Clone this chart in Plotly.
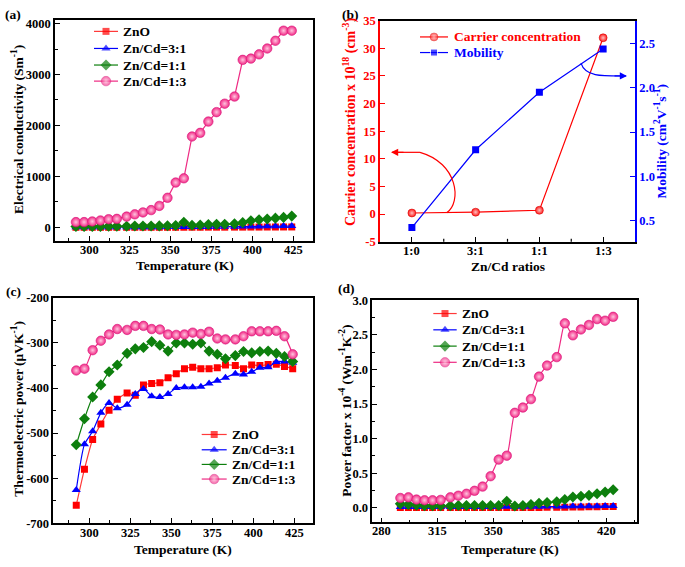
import plotly.graph_objects as go

# ---------------- data ----------------
temps = [292, 297, 302, 307, 312, 317, 323, 328, 333, 338, 343, 348, 353, 358,
         363, 368, 373, 378, 383, 389, 394, 399, 404, 409, 414, 419, 424]

series_names = ["ZnO", "Zn/Cd=3:1", "Zn/Cd=1:1", "Zn/Cd=1:3"]

# (a) electrical conductivity (S/m)
sigma_zno = [1, 1, 1, 1, 1, 1, 1, 1, 1, 1, 1, 1, 1, 2, 2, 2, 3, 3, 3, 4, 4, 5, 5, 6, 6, 7, 7]
sigma_31 = [2, 2, 2, 2, 2, 2, 3, 3, 3, 3, 3, 4, 4, 5, 6, 7, 8, 9, 10, 12, 14, 16, 18, 20, 22, 24, 26]
sigma_11 = [15, 15, 15, 18, 20, 20, 22, 25, 25, 25, 28, 30, 35, 100, 40, 45, 55, 58, 62, 68,
            95, 130, 150, 165, 180, 195, 220]
sigma_13 = [102, 102, 115, 134, 159, 166, 210, 255, 293, 338, 420, 580, 879, 962, 1783, 1854,
            2076, 2261, 2427, 2567, 3287, 3312, 3395, 3510, 3662, 3860, 3860]

# (b) carrier concentration & mobility
ratios = ["1:0", "3:1", "1:1", "1:3"]
carrier = [0.2, 0.35, 0.7, 31.9]
mobility = [0.42, 1.30, 1.95, 2.44]
b_names = ["Carrier concentration", "Mobility"]

# (c) thermoelectric power (uV/K)
seeb_zno = [-660, -580, -514, -480, -449, -425, -411, -416, -393, -390, -388, -377, -368, -357,
            -354, -357, -357, -355, -349, -350, -357, -349, -350, -348, -347, -352, -357]
seeb_31 = [-626, -525, -496, -455, -433, -445, -437, -413, -402, -418, -420, -413, -400, -398,
           -398, -397, -390, -384, -377, -368, -370, -364, -355, -354, -342, -341, -344]
seeb_11 = [-526, -468, -420, -393, -364, -349, -323, -313, -310, -297, -305, -318, -300, -300,
           -303, -300, -318, -325, -335, -328, -319, -322, -319, -318, -323, -330, -341]
seeb_13 = [-361, -357, -316, -295, -281, -269, -271, -262, -262, -269, -270, -281, -282, -281,
           -277, -280, -275, -290, -292, -292, -285, -274, -274, -274, -273, -285, -325]

# (d) power factor (x1e-4 W m^-1 K^-2)
pf_zno = [0.002, 0.002, 0.002, 0.002, 0.002, 0.002, 0.002, 0.002, 0.002, 0.002, 0.002, 0.002,
          0.003, 0.004, 0.004, 0.004, 0.005, 0.005, 0.006, 0.007, 0.008, 0.010, 0.011, 0.013,
          0.015, 0.017, 0.019]
pf_31 = [0.012, 0.012, 0.012, 0.012, 0.012, 0.012, 0.012, 0.012, 0.012, 0.012, 0.012, 0.012,
         0.013, 0.014, 0.014, 0.015, 0.015, 0.016, 0.017, 0.018, 0.019, 0.020, 0.021, 0.022,
         0.023, 0.024, 0.025]
pf_11 = [0.056, 0.047, 0.038, 0.028, 0.028, 0.028, 0.028, 0.033, 0.033, 0.033, 0.033, 0.033,
         0.033, 0.094, 0.024, 0.033, 0.047, 0.066, 0.075, 0.085, 0.118, 0.155, 0.165, 0.179,
         0.202, 0.226, 0.259]
pf_13 = [0.141, 0.150, 0.118, 0.108, 0.108, 0.113, 0.150, 0.174, 0.202, 0.245, 0.306, 0.456,
         0.696, 0.753, 1.373, 1.449, 1.571, 1.896, 2.056, 2.178, 2.667, 2.493, 2.578, 2.643,
         2.728, 2.705, 2.761]

# tick labels
a_xticks = [300, 325, 350, 375, 400, 425]
a_yticks = [0, 1000, 2000, 3000, 4000]
b_left_ticks = [-5, 0, 5, 10, 15, 20, 25, 30, 35]
b_right_ticks = [0.5, 1.0, 1.5, 2.0, 2.5]
c_yticks = [-700, -600, -500, -400, -300, -200]
d_xticks = [280, 315, 350, 385, 420]
d_yticks = [0.0, 0.5, 1.0, 1.5, 2.0, 2.5, 3.0]

# ---------------- styling ----------------
FONT = "Liberation Serif"
RED = "#ff0000"
RED_LINE = "#ff3a3a"
BLUE = "#0000ff"
GREEN = "#0d7f0d"
PINK = "#f22885"
PINK_LINE = "#ee2a83"

W, H = 685, 567


def px(x):
    return x / W


def py(y):
    return 1 - y / H


fig = go.Figure()


def pink_marker(size):
    return dict(color=PINK, symbol="circle", size=size,
                gradient=dict(type="radial", color="#ffc4de"),
                line=dict(width=0.6, color="#d6157a"))


styles = [
    dict(color=RED, line=RED_LINE, symbol="square", size=7),
    dict(color=BLUE, line=BLUE, symbol="triangle-up", size=8),
    dict(color=GREEN, line=GREEN, symbol="diamond", size=8.5),
    dict(color=PINK, line=PINK_LINE, symbol="circle", size=9.5),
]


def marker_for(st, size=None):
    s = st["size"] if size is None else size
    if st["symbol"] == "circle":
        return pink_marker(s)
    return dict(color=st["color"], symbol=st["symbol"], size=s, line=dict(width=0))


def add_set(ys_list, xa, ya, shape):
    for name, ys, st in zip(series_names, ys_list, styles):
        fig.add_trace(go.Scatter(
            x=temps, y=ys, name=name, mode="lines+markers",
            line=dict(color=st["line"], width=1.2, shape=shape,
                      smoothing=0.6 if shape == "spline" else None),
            marker=marker_for(st), xaxis=xa, yaxis=ya, showlegend=False))


add_set([sigma_zno, sigma_31, sigma_11, sigma_13], "x", "y", "linear")
add_set([seeb_zno, seeb_31, seeb_11, seeb_13], "x3", "y4", "spline")
add_set([pf_zno, pf_31, pf_11, pf_13], "x4", "y5", "spline")

# (b)
carrier_marker = dict(color="#ff1a1a", symbol="circle", size=8,
                      gradient=dict(type="radial", color="#ffc0c0"),
                      line=dict(width=0.5, color="#d00000"))
mob_marker = dict(color=BLUE, size=7, symbol="square")
fig.add_trace(go.Scatter(
    x=ratios, y=carrier, name=b_names[0], mode="lines+markers",
    line=dict(color=RED, width=1.2), marker=carrier_marker,
    xaxis="x2", yaxis="y2", showlegend=False))
fig.add_trace(go.Scatter(
    x=ratios, y=mobility, name=b_names[1], mode="lines+markers",
    line=dict(color=BLUE, width=1.2), marker=mob_marker,
    xaxis="x2", yaxis="y3", showlegend=False))

tickfont = dict(family=FONT, size=12.5, color="black", weight="bold")


def axis(domain, rng, anchor, **kw):
    d = dict(domain=domain, range=rng, anchor=anchor, showgrid=False, zeroline=False,
             showline=True, linecolor="black", linewidth=1.5, mirror=True,
             ticks="inside", ticklen=5, tickwidth=1.2, tickcolor="black",
             tickfont=tickfont, fixedrange=True)
    d.update(kw)
    return d


a_dom_x = [px(55), px(313)]
a_dom_y = [py(240), py(13.3)]
b_dom_x = [px(380), px(635)]
b_dom_y = [py(240.7), py(14)]
c_dom_x = [px(53.3), px(312.7)]
c_dom_y = [py(529.3), py(298.3)]
d_dom_x = [px(372.3), px(636.7)]
d_dom_y = [py(528.3), py(300.7)]

fig.update_layout(
    width=W, height=H, margin=dict(l=0, r=0, t=0, b=0),
    paper_bgcolor="white", plot_bgcolor="rgba(0,0,0,0)", showlegend=False,
    font=dict(family=FONT, size=12, color="black", weight="bold"),
    xaxis=axis(a_dom_x, [279.2, 437], "y", tickvals=a_xticks, showticklabels=False,
               minor=dict(dtick=12.5, tick0=287.5, ticks="inside", ticklen=3, tickcolor="black")),
    yaxis=axis(a_dom_y, [-270, 4070], "x", tickvals=a_yticks, tickformat="d",
               minor=dict(dtick=500, tick0=0, ticks="inside", ticklen=3, tickcolor="black")),
    xaxis2=axis(b_dom_x, [-0.5, 3.5], "y2", type="category", showticklabels=False),
    yaxis2=axis(b_dom_y, [-5, 35], "x2", tickvals=b_left_ticks,
                ticktext=[str(v) if v >= 0 else "-" + str(-v) for v in b_left_ticks],
                linecolor=RED, tickcolor=RED, mirror=False,
                tickfont=dict(family=FONT, size=12.5, color=RED, weight="bold")),
    yaxis3=axis(b_dom_y, [0.26, 2.76], "x2", overlaying="y2", side="right",
                tickvals=b_right_ticks, tickformat=".1f", linecolor=BLUE, tickcolor=BLUE,
                mirror=False,
                tickfont=dict(family=FONT, size=12.5, color=BLUE, weight="bold")),
    xaxis3=axis(c_dom_x, [278, 436.2], "y4", tickvals=a_xticks, showticklabels=False,
                minor=dict(dtick=12.5, tick0=287.5, ticks="inside", ticklen=3, tickcolor="black")),
    yaxis4=axis(c_dom_y, [-700, -200], "x3", tickvals=c_yticks,
                ticktext=["-" + str(-v) for v in c_yticks],
                minor=dict(dtick=50, tick0=-700, ticks="inside", ticklen=3, tickcolor="black")),
    xaxis4=axis(d_dom_x, [274.6, 438.6], "y5", tickvals=d_xticks, showticklabels=False,
                minor=dict(dtick=17.5, tick0=262.5, ticks="inside", ticklen=3, tickcolor="black")),
    yaxis5=axis(d_dom_y, [-0.21, 3.0], "x4", tickvals=d_yticks, tickformat=".1f",
                minor=dict(dtick=0.25, tick0=0, ticks="inside", ticklen=3, tickcolor="black")),
    # full-figure overlay axes in pixel units, used only for legend samples
    xaxis5=dict(domain=[0, 1], range=[0, W], anchor="y6", visible=False, fixedrange=True),
    yaxis6=dict(domain=[0, 1], range=[H, 0], anchor="x5", visible=False, fixedrange=True),
)

ann = []


def text(x, y, t, size=13.5, angle=0, color="black", xanchor="center"):
    ann.append(dict(x=px(x), y=py(y), xref="paper", yref="paper", text=t, showarrow=False,
                    textangle=angle, font=dict(family=FONT, size=size, color=color, weight="bold"),
                    xanchor=xanchor, yanchor="middle"))


# ---------------- hand-drawn legends ----------------
def legend_item(x0, x1, xt, y, name, line_color, marker, color="black", size=13.5):
    m = dict(marker)
    m["size"] = [0, marker["size"], 0]
    fig.add_trace(go.Scatter(x=[x0, (x0 + x1) / 2, x1], y=[y, y, y], mode="lines+markers",
                             line=dict(color=line_color, width=1.2), marker=m,
                             xaxis="x5", yaxis="y6", showlegend=False, hoverinfo="skip"))
    text(xt, y, name, size, color=color, xanchor="left")


def legend_block(x0, x1, xt, rows):
    for y, name, st in zip(rows, series_names, styles):
        legend_item(x0, x1, xt, y, name, st["line"], marker_for(st))


legend_block(94, 118, 121, [25, 42.5, 59.5, 76])
legend_block(201.7, 226.7, 229.5, [438.3, 454, 469, 484])
legend_block(433.3, 456.7, 459.5, [314.3, 331, 347.7, 364.3])
legend_item(420, 448, 452, 30.7, b_names[0], RED, carrier_marker, RED, 13.5)
legend_item(420, 448, 452, 46.7, b_names[1], BLUE, mob_marker, BLUE, 13.5)

# ---------------- x tick labels ----------------
for v in a_xticks:
    ann.append(dict(x=v, xref="x", y=py(249), yref="paper", text=str(v), showarrow=False,
                    font=tickfont, xanchor="center", yanchor="middle"))
    ann.append(dict(x=v, xref="x3", y=py(539), yref="paper", text=str(v), showarrow=False,
                    font=tickfont, xanchor="center", yanchor="middle"))
for k, r in enumerate(ratios):
    ann.append(dict(x=k, xref="x2", y=py(250), yref="paper", text=r, showarrow=False,
                    font=tickfont, xanchor="center", yanchor="middle"))
for v in d_xticks:
    ann.append(dict(x=v, xref="x4", y=py(537), yref="paper", text=str(v), showarrow=False,
                    font=tickfont, xanchor="center", yanchor="middle"))

text(13, 8, "(a)", 13.5)
text(350, 8, "(b)", 13.5)
text(13, 292, "(c)", 13.5)
text(346, 289, "(d)", 13.5)

text(185, 265.5, "Temperature (K)", 13.5)
text(18, 126, "Electrical conductivity (Sm<sup>-1</sup>)", 13.5, -90)
text(508, 266.5, "Zn/Cd ratios", 13.5)
text(349, 118, "Carrier concentration x 10<sup>18</sup> (cm<sup>-3</sup>)", 14, -90, RED)
text(661, 138, "Mobility (cm<sup>2</sup>V<sup>-1</sup>s<sup>-1</sup>)", 13.5, -90, BLUE)
text(183, 556.5, "Temperature (K)", 13.5)
text(18, 412, "Thermoelectric power (\u03bcVK<sup>-1</sup>)", 13.5, -90)
text(510, 556.5, "Temperature (K)", 13.5)
text(346, 414, "Power factor x 10<sup>-4</sup> (Wm<sup>-1</sup>K<sup>-2</sup>)", 13.5, -90)

# arrow heads
ann.append(dict(x=px(391), y=py(149), xref="paper", yref="paper", ax=14, ay=0, text="",
                showarrow=True, arrowhead=2, arrowsize=1.2, arrowwidth=1.2, arrowcolor=RED))
ann.append(dict(x=px(627), y=py(70.7), xref="paper", yref="paper", ax=-14, ay=0, text="",
                showarrow=True, arrowhead=2, arrowsize=1.2, arrowwidth=1.2, arrowcolor=BLUE))
fig.update_layout(annotations=ann)

shapes = []


def path_px(pts):
    s = "M {:.5f} {:.5f}".format(px(pts[0][0]), py(pts[0][1]))
    rest = pts[1:]
    s += " C " + " ".join("{:.5f} {:.5f}".format(px(a), py(b)) for a, b in rest)
    return s


shapes.append(dict(type="path", xref="paper", yref="paper",
                   path=path_px([(446.7, 211), (462, 200), (458, 160), (420, 149)]),
                   line=dict(color=RED, width=1.2)))
shapes.append(dict(type="path", xref="paper", yref="paper",
                   path="M {:.5f} {:.5f} L {:.5f} {:.5f}".format(px(420), py(149), px(392), py(149)),
                   line=dict(color=RED, width=1.2)))
shapes.append(dict(type="path", xref="paper", yref="paper",
                   path=path_px([(581, 57.5), (585, 71), (600, 71), (626, 70.7)]),
                   line=dict(color=BLUE, width=1.2)))
# minor ticks between categories on (b) x-axis
for k in range(3):
    shapes.append(dict(type="line", xref="x2", yref="paper", x0=k + 0.5, x1=k + 0.5,
                       y0=py(240.7), y1=py(237.7), line=dict(color="black", width=1.2)))
fig.update_layout(shapes=shapes)

fig.write_html("out.html", config={"displayModeBar": False},
               post_script="document.body.style.margin='0';document.body.style.overflow='hidden';")
